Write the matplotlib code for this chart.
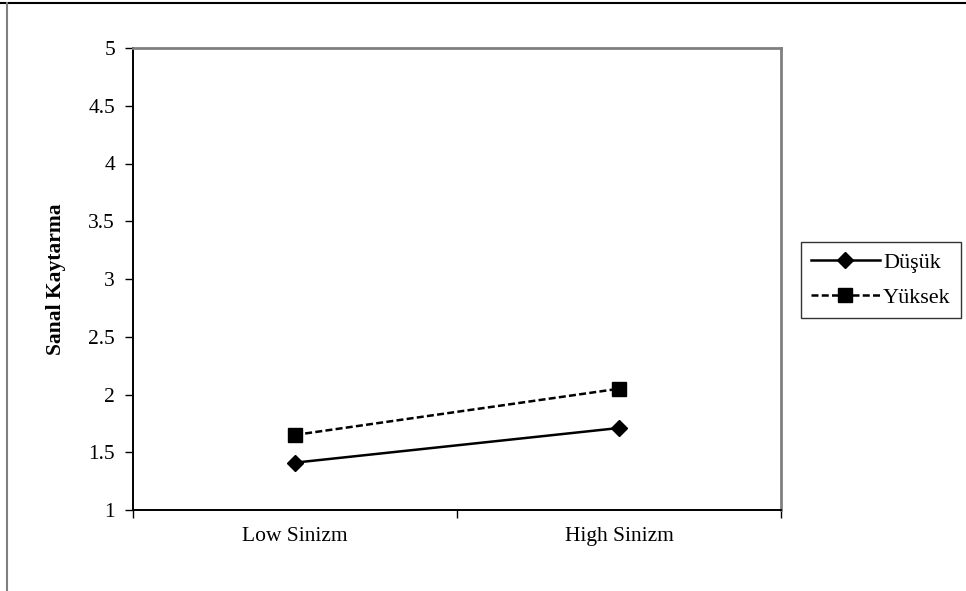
import matplotlib.pyplot as plt
from matplotlib.lines import Line2D

# Данные
categories = ['Low Sinizm', 'High Sinizm']
dusuk = [1.41, 1.71]
yuksek = [1.65, 2.05]
y_ticks = [1, 1.5, 2, 2.5, 3, 3.5, 4, 4.5, 5]
y_tick_labels = ['1', '1.5', '2', '2.5', '3', '3.5', '4', '4.5', '5']

plt.rcParams['font.family'] = ['Liberation Serif', 'DejaVu Serif']

fig = plt.figure(figsize=(9.66, 5.91), dpi=100)
ax = fig.add_axes([133 / 966, 1 - 510 / 591, 648 / 966, 462 / 591])

x = list(range(len(categories)))
ax.plot(x, dusuk, color='black', linestyle='-', linewidth=1.8,
        marker='D', markersize=8.5, label='Düşük')
ax.plot(x, yuksek, color='black', linestyle=(0, (2.8, 1.3)), linewidth=1.8,
        marker='s', markersize=10.5, label='Yüksek')

ax.set_xlim(-0.5, 1.5)
ax.set_ylim(1, 5)
ax.set_yticks(y_ticks)
ax.set_yticklabels(y_tick_labels)
ax.set_xticks([-0.5, 0.5, 1.5])
ax.set_xticklabels([])
ax.set_xticks(x, minor=True)
ax.set_xticklabels(categories, minor=True)
ax.tick_params(axis='x', which='minor', length=0, pad=12, labelsize=15.5)
ax.tick_params(axis='x', which='major', length=6, width=1, direction='out')
ax.tick_params(axis='y', length=6, width=1, direction='out', pad=7, labelsize=15.5)

for side in ['left', 'bottom']:
    ax.spines[side].set_color('black')
    ax.spines[side].set_linewidth(1.4)
for side in ['top', 'right']:
    ax.spines[side].set_color('#808080')
    ax.spines[side].set_linewidth(2)

ax.set_ylabel('Sanal Kaytarma', fontsize=15.5, fontweight='bold', labelpad=16)

leg = ax.legend(loc='upper left', bbox_to_anchor=(801 / 966, 1 - 242 / 591),
                bbox_transform=fig.transFigure, fontsize=16,
                frameon=True, fancybox=False, edgecolor='black', handlelength=3.1,
                borderaxespad=0, borderpad=0.45, handletextpad=0.15, labelspacing=0.65)
leg.get_frame().set_linewidth(1)

# рамка рисунка
fig.add_artist(Line2D([0, 1], [1 - 3 / 591, 1 - 3 / 591], transform=fig.transFigure,
                      color='black', linewidth=1.5))
fig.add_artist(Line2D([7 / 966, 7 / 966], [0, 1 - 3 / 591], transform=fig.transFigure,
                      color='#808080', linewidth=1.5))

fig.savefig('out.png', dpi=100)
